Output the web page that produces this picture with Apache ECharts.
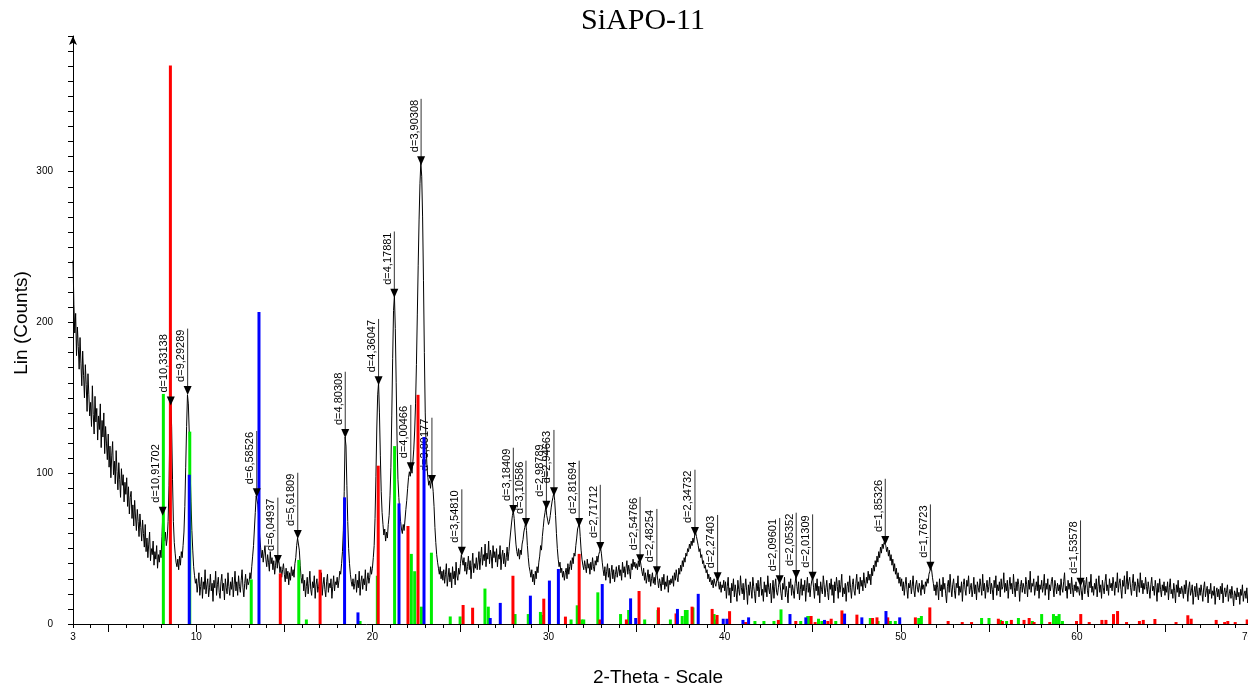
<!DOCTYPE html>
<html>
<head>
<meta charset="utf-8">
<title>SiAPO-11</title>
<script src="https://cdn.jsdelivr.net/npm/echarts@6/dist/echarts.min.js"></script>
<style>
  html, body { margin: 0; padding: 0; background: #fff; }
  #chart { width: 1248px; height: 696px; }
</style>
</head>
<body>
<div id="chart"></div>
<script>
// Scan: counts every 0.05 deg 2-theta from 3.00 to 70.00 (one row per degree)
const scanStart = 3.0;
const scanStep = 0.05;
const scanCounts = [
  241, 212, 193, 206, 178, 197, 184, 169, 190, 173, 158, 181, 165, 150, 172, 159, 141, 166, 152, 138,
  147, 131, 158, 139, 126, 151, 134, 143, 122, 138, 129, 146, 117, 135, 124, 140, 113, 131, 120, 109,
  126, 104, 118, 97, 112, 121, 99, 108, 93, 115, 101, 89, 107, 96, 84, 103, 92, 99, 81, 94,
  86, 97, 78, 91, 73, 84, 88, 70, 79, 65, 82, 71, 62, 76, 68, 58, 73, 64, 55, 69,
  60, 51, 66, 48, 57, 44, 53, 61, 42, 50, 46, 55, 39, 48, 43, 52, 37, 46, 41, 49,
  44, 58, 73, 66, 55, 61, 52, 57, 68, 92, 128, 147, 131, 96, 68, 54, 47, 41, 38, 43,
  36, 45, 39, 48, 44, 52, 61, 78, 104, 131, 152, 146, 127, 103, 81, 62, 49, 38, 32, 27,
  30, 21, 27, 34, 19, 25, 31, 17, 28, 23, 36, 20, 26, 30, 18, 24, 33, 22, 27, 15,
  29, 24, 35, 19, 26, 31, 21, 17, 28, 33, 22, 27, 16, 30, 24, 20, 34, 25, 19, 28,
  23, 31, 18, 26, 35, 22, 28, 19, 32, 25, 21, 29, 36, 24, 18, 27, 33, 23, 30, 26,
  28, 34, 30, 38, 45, 52, 63, 74, 85, 86, 79, 70, 58, 51, 44, 49, 41, 47, 52, 43,
  38, 46, 41, 35, 48, 40, 44, 36, 42, 33, 39, 45, 37, 43, 41, 34, 38, 31, 36, 40,
  33, 28, 37, 30, 35, 26, 34, 29, 38, 32, 36, 31, 40, 44, 52, 57, 58, 49, 39, 31,
  27, 33, 22, 29, 18, 25, 31, 20, 27, 35, 23, 19, 28, 24, 32, 17, 26, 30, 21, 25,
  29, 22, 34, 19, 26, 31, 23, 18, 28, 33, 21, 27, 24, 30, 17, 25, 32, 22, 28, 26,
  31, 24, 29, 35, 33, 40, 48, 62, 88, 124, 118, 92, 68, 50, 40, 33, 28, 25, 30, 23,
  27, 33, 21, 29, 24, 35, 19, 28, 32, 23, 30, 26, 36, 22, 29, 34, 27, 31, 38, 33,
  37, 44, 52, 70, 98, 130, 152, 160, 140, 112, 88, 74, 66, 59, 63, 55, 61, 57, 66, 72,
  85, 104, 138, 176, 208, 218, 196, 160, 122, 96, 84, 75, 68, 63, 60, 66, 62, 69, 76, 82,
  90, 97, 101, 98, 104, 100, 108, 116, 128, 146, 172, 205, 238, 268, 292, 306, 297, 270, 228, 180,
  140, 118, 104, 97, 92, 95, 90, 96, 94, 88, 78, 64, 54, 46, 41, 37, 33, 38, 30, 35,
  29, 36, 27, 33, 40, 25, 31, 37, 28, 34, 24, 38, 30, 35, 26, 41, 32, 29, 37, 33,
  40, 46, 47, 39, 44, 35, 41, 33, 38, 45, 36, 42, 30, 39, 47, 34, 40, 37, 44, 36,
  41, 48, 36, 44, 51, 39, 46, 42, 53, 38, 47, 43, 55, 40, 49, 45, 37, 52, 44, 48,
  41, 50, 38, 46, 43, 52, 36, 45, 49, 40, 47, 38, 44, 51, 42, 48, 55, 61, 67, 72,
  75, 70, 61, 53, 48, 45, 50, 43, 49, 46, 53, 56, 61, 64, 67, 62, 52, 44, 38, 35,
  31, 36, 28, 33, 26, 35, 30, 38, 34, 41, 45, 52, 49, 58, 64, 70, 74, 78, 72, 69,
  66, 68, 72, 77, 81, 84, 87, 82, 72, 60, 50, 43, 38, 41, 34, 37, 31, 35, 29, 34,
  37, 30, 40, 33, 38, 42, 36, 44, 40, 47, 45, 52, 57, 63, 65, 67, 58, 49, 43, 39,
  36, 42, 38, 34, 43, 37, 40, 33, 41, 36, 44, 38, 35, 42, 39, 45, 41, 46, 48, 51,
  47, 41, 36, 32, 38, 29, 35, 40, 31, 37, 27, 34, 39, 30, 36, 28, 33, 38, 31, 35,
  39, 32, 36, 29, 41, 34, 38, 31, 37, 42, 33, 39, 35, 30, 40, 36, 43, 38, 41, 37,
  40, 36, 42, 38, 43, 39, 35, 32, 37, 29, 34, 27, 31, 36, 28, 33, 25, 30, 34, 27,
  31, 26, 33, 35, 29, 24, 30, 27, 22, 31, 26, 33, 23, 28, 25, 32, 21, 29, 26, 30,
  27, 32, 25, 34, 29, 36, 31, 28, 37, 33, 39, 35, 42, 38, 44, 41, 47, 45, 50, 48,
  53, 50, 55, 52, 57, 54, 59, 61, 58, 55, 52, 48, 50, 44, 46, 40, 42, 37, 39, 34,
  36, 30, 33, 28, 31, 26, 29, 24, 30, 27, 25, 29, 31, 27, 23, 28, 21, 26, 24, 29,
  22, 28, 17, 25, 31, 19, 24, 14, 27, 22, 30, 18, 26, 21, 15, 29, 23, 19, 32, 24,
  20, 27, 16, 24, 30, 22, 13, 26, 19, 28, 23, 17, 31, 25, 20, 14, 27, 22, 29, 18,
  25, 31, 19, 23, 15, 28, 21, 26, 18, 32, 24, 20, 27, 14, 22, 29, 17, 25, 30, 21,
  19, 24, 29, 26, 20, 16, 27, 23, 31, 18, 25, 21, 14, 28, 24, 30, 19, 26, 22, 17,
  27, 32, 25, 20, 28, 16, 23, 30, 19, 26, 22, 29, 15, 24, 31, 21, 27, 18, 25, 29,
  31, 24, 17, 27, 22, 30, 19, 25, 14, 28, 23, 20, 32, 26, 18, 24, 29, 21, 16, 27,
  23, 30, 19, 26, 14, 28, 22, 31, 25, 17, 29, 21, 26, 33, 18, 24, 20, 27, 15, 25,
  28, 21, 32, 24, 17, 26, 30, 22, 19, 27, 33, 23, 28, 20, 31, 25, 29, 22, 34, 27,
  24, 31, 27, 35, 29, 33, 26, 37, 32, 39, 35, 42, 38, 45, 41, 48, 44, 51, 47, 53,
  50, 54, 55, 52, 48, 51, 45, 49, 42, 46, 39, 43, 35, 40, 33, 37, 30, 34, 27, 31,
  25, 30, 22, 28, 19, 26, 31, 23, 17, 27, 24, 29, 20, 25, 32, 22, 18, 26, 29, 23,
  21, 27, 24, 19, 29, 23, 26, 20, 28, 25, 30, 27, 33, 35, 38, 36, 31, 27, 22, 26,
  19, 28, 24, 16, 30, 22, 26, 18, 31, 23, 27, 20, 14, 25, 29, 21, 33, 24, 18, 26,
  30, 22, 17, 27, 24, 32, 19, 25, 21, 28, 15, 26, 30, 23, 19, 29, 25, 32, 20, 24,
  27, 18, 23, 31, 20, 26, 16, 28, 24, 21, 30, 25, 19, 33, 22, 27, 17, 24, 29, 21,
  25, 31, 20, 27, 23, 16, 29, 24, 32, 19, 26, 22, 28, 18, 30, 23, 25, 34, 21, 27,
  22, 29, 17, 25, 31, 23, 27, 20, 33, 24, 18, 28, 22, 30, 26, 15, 25, 29, 21, 27,
  24, 20, 31, 26, 18, 29, 23, 35, 21, 27, 25, 30, 19, 24, 28, 22, 32, 17, 26, 23,
  29, 21, 25, 33, 19, 27, 23, 30, 16, 26, 22, 28, 31, 24, 18, 29, 25, 20, 27, 22,
  26, 19, 30, 24, 21, 28, 34, 22, 25, 17, 29, 23, 27, 20, 31, 24, 18, 26, 22, 28,
  21, 25, 23, 19, 27, 22, 16, 24, 29, 20, 26, 31, 22, 18, 28, 24, 33, 21, 25, 19,
  27, 23, 30, 18, 25, 32, 21, 26, 17, 29, 24, 20, 28, 33, 22, 26, 19, 30, 24, 27,
  22, 31, 26, 19, 28, 24, 34, 21, 27, 30, 23, 17, 29, 25, 32, 20, 26, 35, 23, 28,
  31, 24, 19, 27, 33, 22, 28, 25, 18, 30, 26, 21, 34, 24, 29, 20, 27, 23, 31, 25,
  20, 28, 23, 17, 26, 31, 22, 25, 19, 29, 24, 15, 27, 21, 30, 23, 18, 26, 22, 28,
  19, 25, 21, 28, 16, 24, 30, 20, 23, 17, 27, 22, 14, 26, 21, 29, 18, 24, 20, 25,
  22, 17, 26, 20, 29, 23, 15, 24, 28, 19, 22, 26, 13, 21, 25, 18, 27, 20, 16, 24,
  19, 26, 21, 15, 24, 28, 18, 22, 25, 14, 23, 20, 27, 17, 22, 19, 25, 13, 21, 24,
  18, 23, 16, 25, 20, 27, 14, 21, 24, 18, 22, 26, 15, 20, 23, 17, 25, 19, 12, 22,
  20, 16, 24, 18, 21, 13, 23, 19, 26, 15, 20, 22, 17, 24, 14, 21, 18, 23, 16, 19,
  20
];

// Peak search results: d-spacing (Angstrom) and counts at the marker
const peakD = [
  10.91702, 10.33138, 9.29289, 6.58526, 6.04937, 5.61809, 4.80308, 4.36047,
  4.17881, 4.00466, 3.90308, 3.80177, 3.54810, 3.18409, 3.10586, 2.98789,
  2.94663, 2.81694, 2.71712, 2.54766, 2.48254, 2.34732, 2.27403, 2.09601,
  2.05352, 2.01309, 1.85326, 1.76723, 1.53578
];
const peakCounts = [
  74.5, 147.5, 154.6, 86.7, 42.5, 59, 126, 161,
  219, 104, 307, 95.5, 48, 75.6, 67, 78.5,
  87.4, 67, 51, 43, 35, 61, 31, 29,
  32.5, 31.4, 55, 38, 27.4
];
const wavelength = 1.5406; // Cu K-alpha1

// Reference patterns: [2-theta, intensity]
const greenSticks = [
  [8.13, 152.6], [9.63, 127.6], [13.12, 29.6], [15.82, 42.5], [16.25, 3], [19.3, 2],
  [20.28, 32], [21.26, 118], [22.21, 46.5], [22.40, 35], [22.78, 11.5], [23.35, 47.3],
  [24.42, 5], [24.98, 5], [26.39, 23.5], [26.58, 11.5], [28.10, 6.6], [28.85, 6.6],
  [29.54, 8], [29.62, 6], [31.28, 3], [31.63, 12.4], [31.89, 3], [32.0, 3], [32.80, 21],
  [34.09, 6.6], [34.55, 9.3], [35.46, 3], [36.22, 9.3], [36.92, 3], [37.59, 5.3],
  [37.77, 9.3], [37.87, 9.3], [38.2, 11], [39.4, 6.6], [39.5, 3], [41.72, 2], [42.23, 2],
  [42.80, 2], [43.2, 9.7], [44.32, 2], [44.72, 5.3], [44.82, 5.3], [45.33, 3.5], [45.52, 2],
  [46.31, 2], [48.27, 4], [48.71, 2], [49.41, 2], [49.69, 2], [51.02, 4], [51.17, 5.3],
  [54.59, 4], [55.01, 4], [55.67, 2.7], [56.01, 2], [56.68, 4], [57.47, 2], [58.00, 6.6],
  [58.67, 6.6], [58.84, 5.3], [58.99, 6.6], [59.18, 2]
];
const redSticks = [
  [8.53, 370.5], [14.77, 33.6], [17.03, 36], [20.33, 105], [22.02, 65], [22.59, 152],
  [25.15, 12.6], [25.69, 10.8], [27.98, 32], [29.73, 16.8], [30.96, 4.9], [31.74, 46.5],
  [32.92, 3], [34.42, 3], [35.14, 21.9], [36.24, 11], [37.24, 7], [38.15, 11.5],
  [39.29, 10], [39.57, 6], [40.28, 8.5], [41.19, 1.3], [43.05, 2.7], [44.04, 2],
  [44.91, 5.3], [45.14, 1.3], [45.86, 2], [46.05, 3.5], [46.66, 9], [47.51, 6.2],
  [48.40, 4], [48.65, 4.4], [49.26, 4.4], [50.83, 4.4], [51.65, 11], [52.69, 2],
  [53.49, 1.3], [54.02, 1.3], [55.54, 3.5], [55.77, 2], [56.28, 2.7], [57.00, 2.7],
  [57.29, 4], [57.57, 1.3], [58.46, 1.3], [59.98, 2], [60.22, 6.6], [60.70, 1.3],
  [61.42, 2.7], [61.65, 2.7], [62.08, 6.6], [62.31, 8.6], [62.82, 1.3], [63.55, 2],
  [63.77, 2.7], [64.43, 3.3], [65.63, 1.3], [66.30, 5.8], [66.49, 3.5], [67.91, 2.7],
  [68.39, 1.3], [68.57, 2], [68.99, 1.3], [69.67, 3]
];
const blueSticks = [
  [9.60, 99], [13.56, 207], [18.42, 84], [19.18, 7.7], [21.51, 80], [22.93, 124],
  [26.69, 4], [27.26, 14], [28.97, 18.8], [30.05, 28.8], [30.56, 36.5], [33.05, 26.5],
  [34.66, 17], [34.95, 4], [37.32, 10], [38.50, 20], [39.92, 3.5], [40.13, 3.5],
  [41.04, 2.7], [41.36, 4.4], [43.71, 6.6], [44.61, 4.4], [45.67, 2.7], [46.81, 6.9],
  [47.79, 4.4], [49.16, 8.6], [49.94, 4.4]
];

// Axis ticks and labels
const xLabelValues = [3, 10, 20, 30, 40, 50, 60, 70];
const xMajorTicks = [5, 10, 15, 20, 25, 30, 35, 40, 45, 50, 55, 60, 65, 70];
const yLabelValues = [0, 100, 200, 300];

const scanData = scanCounts.map((c, i) => [+(scanStart + i * scanStep).toFixed(2), c]);

function twoTheta(d) {
  return 2 * Math.asin(wavelength / (2 * d)) * 180 / Math.PI;
}
const peakData = peakD.map((d, i) => [twoTheta(d), peakCounts[i]]);
const peakText = peakD.map(d => 'd=' + d.toFixed(5).replace('.', ','));

const labelFont = '11px "Liberation Sans", Arial, sans-serif';
const measureCtx = document.createElement('canvas').getContext('2d');
measureCtx.font = labelFont;

function stickSeries(name, color, data) {
  return {
    name: name,
    type: 'custom',
    z: 4,
    data: data,
    renderItem: function (params, api) {
      const top = api.coord([api.value(0), api.value(1)]);
      const base = api.coord([api.value(0), 0]);
      return {
        type: 'rect',
        shape: { x: top[0] - 1.5, y: top[1], width: 3, height: base[1] - top[1] },
        style: { fill: color }
      };
    }
  };
}

const chart = echarts.init(document.getElementById('chart'), null, { renderer: 'canvas' });
chart.setOption({
  animation: false,
  backgroundColor: '#fff',
  graphic: [{
    type: 'text',
    x: 643, y: 21,
    style: {
      text: 'SiAPO-11',
      font: '30px "Liberation Serif", "Times New Roman", serif',
      fill: '#000',
      align: 'center',
      verticalAlign: 'middle'
    }
  }, {
    type: 'text',
    x: 22, y: 323,
    rotation: Math.PI / 2,
    style: {
      text: 'Lin (Counts)',
      font: '19px "Liberation Sans", Arial, sans-serif',
      fill: '#000',
      align: 'center',
      verticalAlign: 'middle'
    }
  }, {
    type: 'text',
    x: 658, y: 678,
    style: {
      text: '2-Theta - Scale',
      font: '19px "Liberation Sans", Arial, sans-serif',
      fill: '#000',
      align: 'center',
      verticalAlign: 'middle'
    }
  }],
  grid: { left: 73, right: -5, top: 36, bottom: 72, containLabel: false, outerBoundsMode: 'none' },
  xAxis: [{
    type: 'value',
    min: 3, max: 70, interval: 1,
    axisLine: { show: true, lineStyle: { color: '#000', width: 1 } },
    axisTick: { show: true, length: 4, lineStyle: { color: '#000' } },
    axisLabel: {
      fontFamily: 'Liberation Sans', fontSize: 10, color: '#000', margin: 8,
      showMaxLabel: true,
      alignMaxLabel: 'right',
      formatter: v => (xLabelValues.indexOf(v) >= 0 ? String(v) : '')
    },
    splitLine: { show: false }
  }, {
    type: 'value',
    min: 3, max: 70,
    position: 'bottom',
    axisLine: { show: false },
    axisLabel: { show: false },
    axisTick: { show: true, length: 8, customValues: xMajorTicks, lineStyle: { color: '#000' } },
    splitLine: { show: false }
  }],
  yAxis: {
    type: 'value',
    min: 0, max: 390, interval: 10,
    axisLine: {
      show: true,
      symbol: ['none', 'arrow'],
      symbolSize: [6, 9],
      lineStyle: { color: '#000', width: 1 }
    },
    axisTick: { show: true, length: 5, lineStyle: { color: '#000' } },
    axisLabel: {
      fontFamily: 'Liberation Sans', fontSize: 10, color: '#000', margin: 20,
      formatter: v => (yLabelValues.indexOf(v) >= 0 ? String(v) : '')
    },
    splitLine: { show: false }
  },
  series: [
    {
      name: 'peak labels',
      type: 'custom',
      z: 1,
      data: peakData,
      renderItem: function (params, api) {
        const p = api.coord([api.value(0), api.value(1)]);
        const txt = peakText[params.dataIndex];
        const len = measureCtx.measureText(txt).width + 10;
        return {
          type: 'group',
          children: [
            { type: 'line', shape: { x1: p[0], y1: p[1], x2: p[0], y2: p[1] - len },
              style: { stroke: '#333', lineWidth: 1 } },
            { type: 'text', x: p[0] - 1, y: p[1] - 9, rotation: Math.PI / 2,
              style: { text: txt, font: labelFont, fill: '#000', align: 'left', verticalAlign: 'bottom' } }
          ]
        };
      }
    },
    {
      name: 'SiAPO-11',
      type: 'line',
      z: 2,
      data: scanData,
      symbol: 'none',
      sampling: null,
      lineStyle: { color: '#000', width: 1 }
    },
    stickSeries('green', '#00ee00', greenSticks),
    stickSeries('red', '#ff0000', redSticks),
    stickSeries('blue', '#0000ff', blueSticks),
    {
      name: 'peak markers',
      type: 'custom',
      z: 5,
      data: peakData,
      renderItem: function (params, api) {
        const p = api.coord([api.value(0), api.value(1)]);
        return {
          type: 'polygon',
          shape: { points: [[p[0] - 4, p[1] - 5], [p[0] + 4, p[1] - 5], [p[0], p[1] + 4]] },
          style: { fill: '#000' }
        };
      }
    }
  ]
});
</script>
</body>
</html>
